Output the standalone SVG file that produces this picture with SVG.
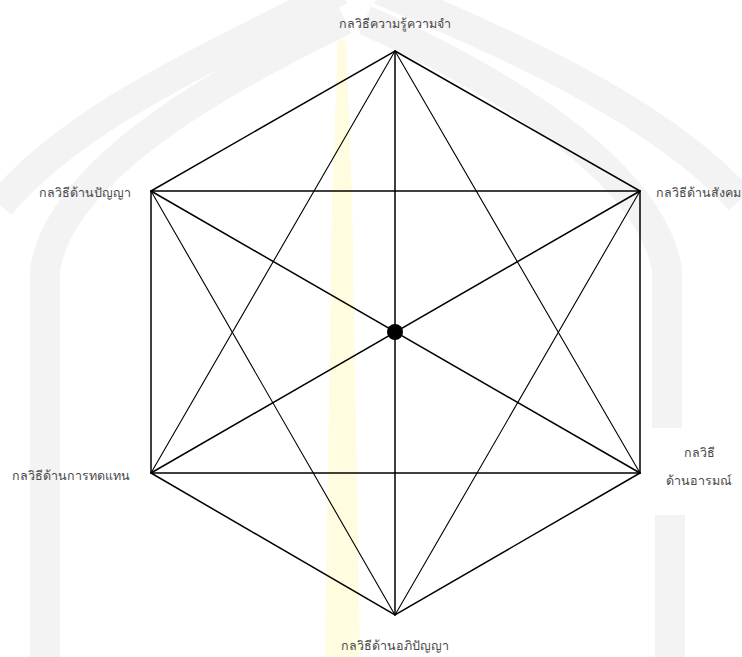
<svg xmlns="http://www.w3.org/2000/svg" width="742" height="657" viewBox="0 0 742 657">
  <style>
    .wm { fill: none; stroke: #f3f3f3; stroke-width: 30; }
    .edge { stroke: #000; stroke-width: 1.5; fill: none; stroke-linecap: round; }
    .thin { stroke: #000; stroke-width: 1.1; fill: none; stroke-linecap: round; }
    .lbl { font-family: "Noto Sans", "Noto Sans CJK SC", sans-serif; font-size: 12.5px; fill: #4a4a4a; }
  </style>
  <rect width="742" height="657" fill="#fff"/>
  <g id="watermark">
    <path class="wm" d="M 0 205 C 80 110 230 50 340 -10"/>
    <path class="wm" d="M 45 657 L 45 270 C 60 170 220 80 345 20"/>
    <path class="wm" d="M 740 200 C 660 110 500 40 380 -10"/>
    <path class="wm" d="M 667 428 L 667 270 C 650 170 500 80 365 20"/>
    <path class="wm" d="M 670 515 L 670 657"/>
    <path d="M 338 40 L 346 40 L 352 200 L 360 657 L 325 657 L 332 200 Z" fill="#fffce0"/>
  </g>
  <g id="connectors">
    <polygon class="edge" points="395,51 640,191 640,473 395,615 151,473 151,191"/>
    <line class="edge" x1="151" y1="191" x2="640" y2="191"/>
    <line class="edge" x1="151" y1="473" x2="640" y2="473"/>
    <line class="edge" x1="395" y1="51" x2="395" y2="615"/>
    <line class="edge" x1="151" y1="191" x2="640" y2="473"/>
    <line class="edge" x1="640" y1="191" x2="151" y2="473"/>
    <line class="thin" x1="395" y1="51" x2="151" y2="473"/>
    <line class="thin" x1="395" y1="51" x2="640" y2="473"/>
    <line class="thin" x1="395" y1="615" x2="151" y2="191"/>
    <line class="thin" x1="395" y1="615" x2="640" y2="191"/>
  </g>
  <g id="center">
    <circle cx="395" cy="332" r="8" fill="#000"/>
  </g>
  <g id="node-memory">
    <text class="lbl" x="395" y="28" text-anchor="middle">กลวิธีความรู้ความจำ</text>
  </g>
  <g id="node-cognitive">
    <text class="lbl" x="131" y="197" text-anchor="end">กลวิธีด้านปัญญา</text>
  </g>
  <g id="node-social">
    <text class="lbl" x="656" y="197">กลวิธีด้านสังคม</text>
  </g>
  <g id="node-compensation">
    <text class="lbl" x="130" y="480" text-anchor="end">กลวิธีด้านการทดแทน</text>
  </g>
  <g id="node-affective">
    <text class="lbl" x="699" y="457" text-anchor="middle">กลวิธี</text>
    <text class="lbl" x="699" y="485" text-anchor="middle">ด้านอารมณ์</text>
  </g>
  <g id="node-metacognitive">
    <text class="lbl" x="395" y="650" text-anchor="middle">กลวิธีด้านอภิปัญญา</text>
  </g>
</svg>
